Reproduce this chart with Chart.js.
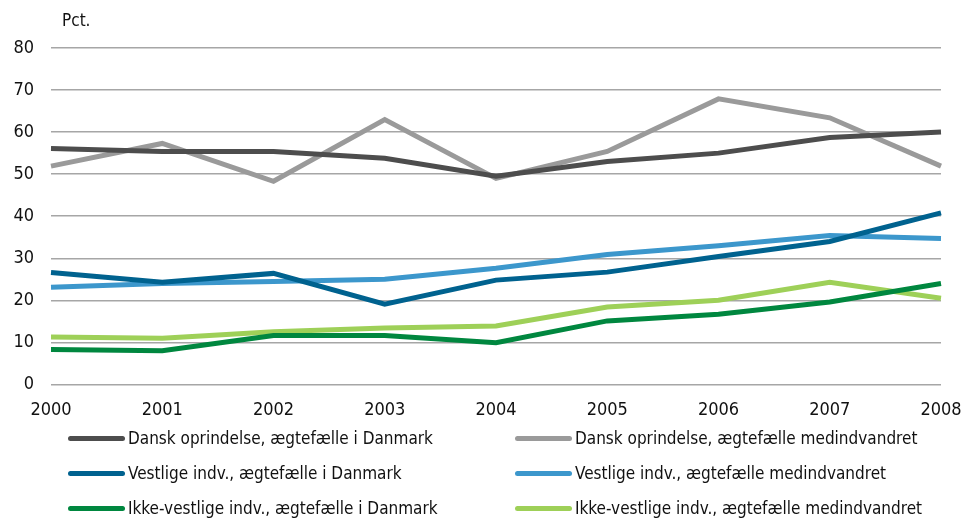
<!DOCTYPE html>
<html>
<head>
<meta charset="utf-8">
<script src="https://cdn.jsdelivr.net/npm/chart.js@4"></script>
<style>
  body { margin: 0; background: #fff; font-family: "DejaVu Sans Condensed", "Liberation Sans Narrow", sans-serif; }
  #wrap { position: relative; width: 963px; height: 518px; }
  #box { position: absolute; left: 0; top: 0; width: 963px; height: 428px; }
  #legend { position: absolute; left: 68px; top: 427px; width: 895px; display: grid;
            grid-template-columns: 447px 448px; row-gap: 13px; font-size: 17px; color: #111; }
  .item { display: flex; align-items: center; height: 22px; }
  .swatch { width: 57px; height: 5px; border-radius: 3px; margin-right: 3px; }
</style>
</head>
<body>
<div id="wrap">
  <div id="box"><canvas id="chartLine"></canvas></div>
  <div id="legend"></div>
</div>
<script>
var years = ['2000', '2001', '2002', '2003', '2004', '2005', '2006', '2007', '2008'];

var danskDk  = [56.1, 55.4, 55.4, 53.8, 49.5, 53.0, 55.0, 58.7, 60.0];
var danskMed = [51.9, 57.3, 48.3, 63.0, 49.0, 55.4, 67.9, 63.4, 51.9];
var vestDk   = [26.6, 24.3, 26.4, 19.1, 24.8, 26.7, 30.4, 34.0, 40.8];
var vestMed  = [23.1, 24.0, 24.5, 25.0, 27.6, 30.9, 33.0, 35.4, 34.7];
var ikkeDk   = [8.3, 8.0, 11.6, 11.6, 9.9, 15.1, 16.7, 19.6, 24.0];
var ikkeMed  = [11.3, 11.0, 12.5, 13.4, 13.9, 18.4, 20.0, 24.3, 20.5];

var yTicks = [0, 10, 20, 30, 40, 50, 60, 70, 80];

var fontFam = '"DejaVu Sans Condensed", "Liberation Sans Narrow", sans-serif';

function line(label, data, color) {
    return {
        label: label,
        data: data,
        borderColor: color,
        backgroundColor: color,
        borderWidth: 5,
        pointRadius: 0,
        tension: 0,
        fill: false
    };
}

// "Pct." over the y axis
var unitLabel = {
    id: 'unitLabel',
    afterDraw: function (chart) {
        var ctx = chart.ctx;
        ctx.save();
        ctx.font = '17px ' + fontFam;
        ctx.fillStyle = '#111';
        ctx.textBaseline = 'middle';
        ctx.fillText('Pct.', chart.chartArea.left + 11, 22);
        ctx.restore();
    }
};

var ourLine = document.getElementById('chartLine');

var lineChart = new Chart(ourLine, {
    type: 'line',
    data: {
        labels: years,
        datasets: [
            line('Dansk oprindelse, ægtefælle i Danmark', danskDk, '#4d4d4d'),
            line('Dansk oprindelse, ægtefælle medindvandret', danskMed, '#9a9a9a'),
            line('Vestlige indv., ægtefælle i Danmark', vestDk, '#00628f'),
            line('Vestlige indv., ægtefælle medindvandret', vestMed, '#3c97cc'),
            line('Ikke-vestlige indv., ægtefælle i Danmark', ikkeDk, '#00873f'),
            line('Ikke-vestlige indv., ægtefælle medindvandret', ikkeMed, '#9ed058')
        ]
    },
    options: {
        responsive: true,
        maintainAspectRatio: false,
        animation: false,
        layout: { padding: { top: 48, left: 12, right: 0, bottom: 0 } },
        scales: {
            x: {
                offset: false,
                grid: { display: false },
                border: { display: false },
                ticks: { color: '#111', padding: 7, maxRotation: 0, font: { family: fontFam, size: 18 } },
                afterFit: function (axis) {
                    axis.paddingRight = 22;
                    axis.paddingLeft = 22;
                }
            },
            y: {
                min: 0,
                max: 80,
                afterBuildTicks: function (axis) {
                    axis.ticks = yTicks.map(function (v) { return { value: v }; });
                },
                afterFit: function (axis) {
                    axis.width = 39;
                },
                grid: { color: '#a6a6a6', lineWidth: 1.5, drawTicks: false },
                border: { display: false },
                ticks: { color: '#111', padding: 17, font: { family: fontFam, size: 18 } }
            }
        },
        plugins: {
            legend: { display: false },
            tooltip: { enabled: false }
        }
    },
    plugins: [unitLabel]
});

// legend in two columns, built from the datasets
var legendBox = document.getElementById('legend');
lineChart.data.datasets.forEach(function (ds) {
    var item = document.createElement('div');
    item.className = 'item';
    var sw = document.createElement('span');
    sw.className = 'swatch';
    sw.style.background = ds.borderColor;
    var tx = document.createElement('span');
    tx.textContent = ds.label;
    item.appendChild(sw);
    item.appendChild(tx);
    legendBox.appendChild(item);
});
</script>
</body>
</html>
